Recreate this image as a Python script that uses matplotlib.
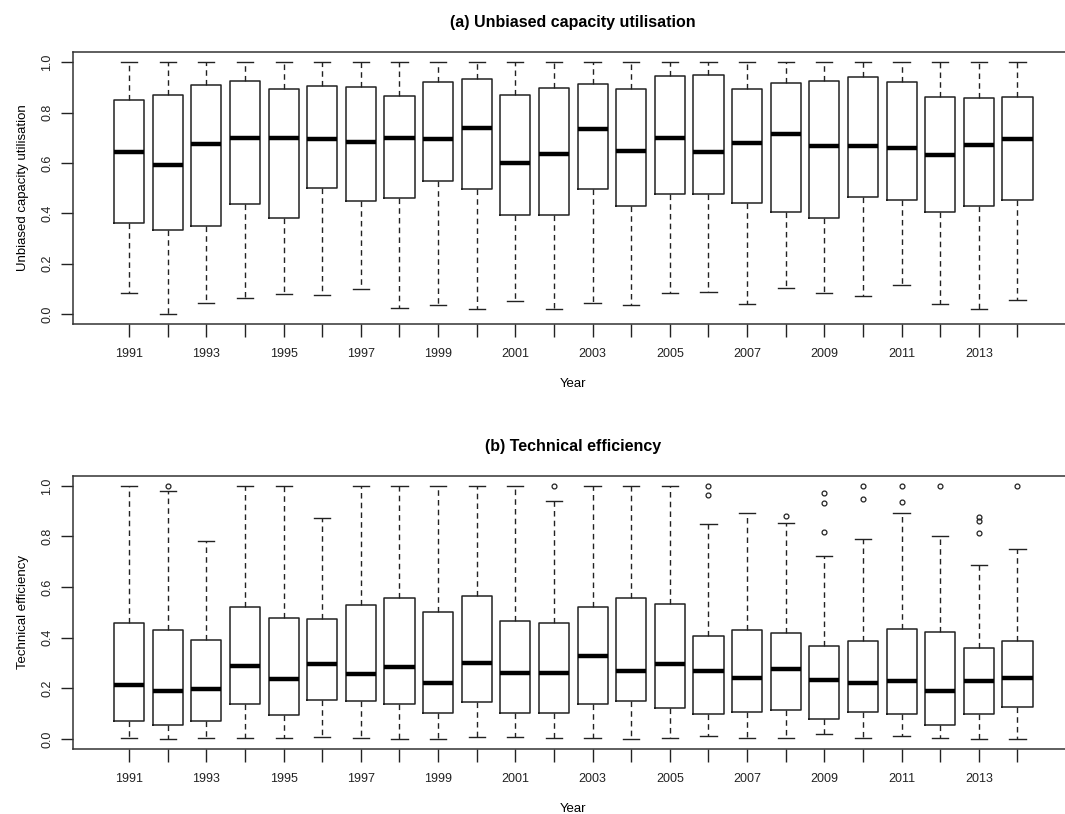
import matplotlib
matplotlib.use("Agg")
import matplotlib.pyplot as plt
import numpy as np

plt.rcParams['font.family'] = ['Liberation Sans', 'DejaVu Sans']

years = list(range(1991, 2015))

# (a) Unbiased capacity utilisation
cu_lo = [0.085, 0.0, 0.045, 0.065, 0.08, 0.075, 0.10, 0.025, 0.035, 0.02, 0.05, 0.021,
         0.043, 0.034, 0.082, 0.087, 0.038, 0.103, 0.082, 0.073, 0.116, 0.038, 0.021, 0.054]
cu_q1 = [0.36, 0.335, 0.35, 0.435, 0.38, 0.50, 0.45, 0.46, 0.53, 0.495, 0.395, 0.392,
         0.497, 0.429, 0.478, 0.478, 0.440, 0.405, 0.382, 0.464, 0.453, 0.405, 0.430, 0.454]
cu_med = [0.645, 0.59, 0.675, 0.70, 0.70, 0.695, 0.685, 0.70, 0.695, 0.74, 0.60, 0.637,
          0.734, 0.647, 0.70, 0.642, 0.680, 0.714, 0.666, 0.666, 0.661, 0.632, 0.671, 0.695]
cu_q3 = [0.85, 0.87, 0.91, 0.925, 0.895, 0.905, 0.90, 0.865, 0.92, 0.935, 0.87, 0.897,
         0.913, 0.892, 0.947, 0.951, 0.892, 0.917, 0.926, 0.942, 0.921, 0.864, 0.859, 0.864]
cu_hi = [1.0] * 24

# (b) Technical efficiency
te_lo = [0.005, 0.0, 0.005, 0.005, 0.005, 0.009, 0.005, 0.0, 0.0, 0.009, 0.009, 0.005,
         0.005, 0.0, 0.005, 0.011, 0.005, 0.005, 0.018, 0.005, 0.011, 0.005, 0.0, 0.0]
te_q1 = [0.072, 0.053, 0.072, 0.139, 0.095, 0.155, 0.149, 0.139, 0.101, 0.145, 0.101, 0.101,
         0.139, 0.149, 0.120, 0.100, 0.105, 0.114, 0.080, 0.105, 0.100, 0.053, 0.100, 0.125]
te_med = [0.211, 0.188, 0.197, 0.289, 0.237, 0.295, 0.257, 0.284, 0.222, 0.300, 0.261, 0.261,
          0.328, 0.270, 0.295, 0.270, 0.239, 0.275, 0.232, 0.222, 0.228, 0.188, 0.228, 0.241]
te_q3 = [0.458, 0.429, 0.391, 0.522, 0.478, 0.472, 0.530, 0.555, 0.501, 0.564, 0.467, 0.458,
         0.521, 0.555, 0.534, 0.405, 0.429, 0.420, 0.366, 0.386, 0.434, 0.424, 0.361, 0.386]
te_hi = [1.0, 0.98, 0.783, 1.0, 1.0, 0.874, 1.0, 1.0, 1.0, 1.0, 1.0, 0.941,
         1.0, 1.0, 1.0, 0.850, 0.893, 0.854, 0.724, 0.791, 0.893, 0.800, 0.689, 0.751]
te_out = [[], [1.0], [], [], [], [], [], [], [], [], [], [1.0],
          [], [], [], [1.0, 0.964], [], [0.880], [0.972, 0.934, 0.818], [1.0, 0.949],
          [1.0, 0.938], [1.0], [0.876, 0.859, 0.813], [1.0]]


def make_stats(lo, q1, med, q3, hi, out=None):
    stats = []
    for i in range(len(lo)):
        stats.append(dict(whislo=lo[i], q1=q1[i], med=med[i], q3=q3[i], whishi=hi[i],
                          fliers=out[i] if out else []))
    return stats


def draw_panel(ax, stats, title, ylabel):
    pos = np.arange(1, len(years) + 1)
    ax.bxp(stats, positions=pos, widths=0.78, capwidths=0.42, showfliers=True,
           boxprops=dict(color='#222222', linewidth=1.1),
           medianprops=dict(color='black', linewidth=3.2, solid_capstyle='butt'),
           whiskerprops=dict(color='#222222', linewidth=1.0, linestyle=(0, (4, 3))),
           capprops=dict(color='#222222', linewidth=1.0),
           flierprops=dict(marker='o', markersize=3.5, markerfacecolor='none',
                           markeredgecolor='#222222', markeredgewidth=0.9))
    ax.set_xlim(-0.46, 25.46)
    ax.set_ylim(-0.04, 1.04)
    ax.set_xticks(pos)
    ax.set_xticklabels([str(y) if (y - 1991) % 2 == 0 else '' for y in years])
    ax.set_yticks([0.0, 0.2, 0.4, 0.6, 0.8, 1.0])
    ax.set_yticklabels(['0.0', '0.2', '0.4', '0.6', '0.8', '1.0'], rotation=90, va='center')
    ax.tick_params(axis='both', direction='out', length=9, width=1.0, colors='#222222',
                   labelsize=9, labelcolor='#222222')
    ax.tick_params(axis='x', pad=8)
    ax.tick_params(axis='y', pad=5)
    for s in ax.spines.values():
        s.set_linewidth(1.1)
        s.set_color('#333333')
    ax.set_title(title, fontsize=11.5, fontweight='bold', pad=18)
    ax.set_xlabel('Year', fontsize=9.5, labelpad=13)
    ax.set_ylabel(ylabel, fontsize=9.5, labelpad=9)


fig = plt.figure(figsize=(10.65, 8.14), dpi=100)
ax1 = fig.add_axes([0.0683, 0.602, 0.940, 0.3338])
ax2 = fig.add_axes([0.0683, 0.0799, 0.940, 0.3357])

draw_panel(ax1, make_stats(cu_lo, cu_q1, cu_med, cu_q3, cu_hi),
           '(a) Unbiased capacity utilisation', 'Unbiased capacity utilisation')
draw_panel(ax2, make_stats(te_lo, te_q1, te_med, te_q3, te_hi, te_out),
           '(b) Technical efficiency', 'Technical efficiency')

fig.savefig('out.png', dpi=100)
